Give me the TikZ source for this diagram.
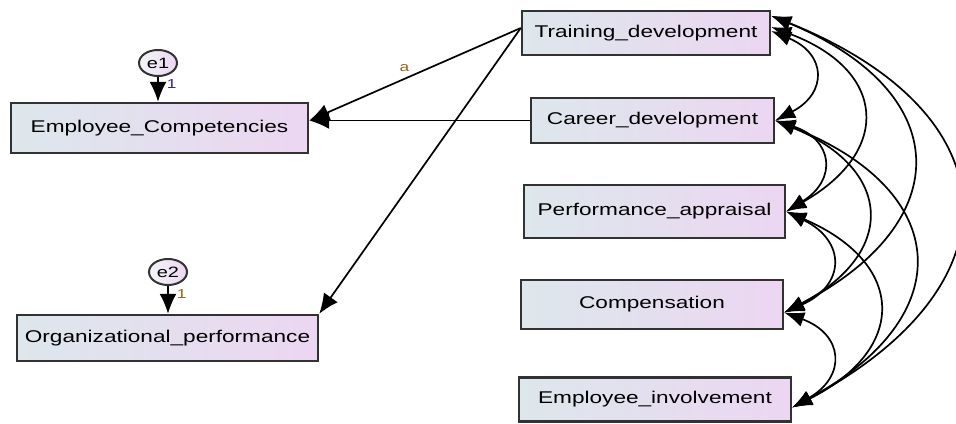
\documentclass[tikz,border=0pt]{standalone}
\usepackage{fontspec}
\setmainfont{Liberation Sans}[FakeStretch=1.33]
\usepackage{tikz}
\usetikzlibrary{arrows.meta,shapes.geometric}
\definecolor{boxleft}{RGB}{221,231,236}
\definecolor{boxright}{RGB}{236,214,242}
\definecolor{edgegray}{RGB}{50,50,50}
\definecolor{onecolor}{RGB}{60,30,150}
\definecolor{acolor}{RGB}{150,100,30}

\begin{document}
\begin{tikzpicture}[x=0.5pt,y=0.5pt,
	var/.style={draw=edgegray,line width=1.2pt,left color=boxleft,right color=boxright,inner sep=0pt,font=\fontsize{8.5}{10}\selectfont},
	err/.style={ellipse,draw=edgegray,line width=1pt,left color=boxleft!40!white,right color=boxright,minimum width=19pt,minimum height=13pt,inner sep=0pt,font=\fontsize{7.5}{8}\selectfont},
	reg/.style={line width=0.85pt,-{Latex[length=10pt,width=8.5pt]}},
	cov/.style={line width=0.85pt,{Latex[length=10pt,width=7.5pt]}-{Latex[length=10pt,width=7.5pt]},bend left=65,looseness=1.7},
	lbl/.style={font=\fontsize{6.5}{7}\selectfont,inner sep=1pt}]
	\useasboundingbox (0,0) rectangle (956,423);
	% observed variables
	\node[var,minimum width=148.5pt,minimum height=25pt] (ec) at (159.5,295) {Employee\_Competencies};
	\node[var,minimum width=150.5pt,minimum height=23pt] (op) at (167.5,85) {Organizational\_performance};
	\node[var,minimum width=124pt,minimum height=22pt] (td) at (646,390) {Training\_development};
	\node[var,minimum width=121.5pt,minimum height=22.5pt] (cd) at (652.5,302.5) {Career\_development};
	\node[var,minimum width=130.5pt,minimum height=26.5pt] (pa) at (654.5,211.5) {Performance\_appraisal};
	\node[var,minimum width=131pt,minimum height=24.5pt] (cp) at (652,118.5) {Compensation};
	\node[var,minimum width=136pt,minimum height=22pt] (ei) at (655,23.5) {Employee\_involvement};
	% error terms
	\node[err] (e1) at (158,360) {e1};
	\node[err] (e2) at (168,151) {e2};
	\draw[reg] (e1.south) -- (e1 |- ec.north) node[pos=0.3,right=3pt,lbl,text=onecolor] {1};
	\draw[reg] (e2.south) -- (e2 |- op.north) node[pos=0.3,right=3pt,lbl,text=acolor] {1};
	% regression paths
	\coordinate (tdout) at ([yshift=2.5pt]td.west);
	\coordinate (ecin) at (ec.east |- cd.west);
	\draw[reg] (tdout) -- (ecin) node[pos=0.55,above=2pt,lbl,text=acolor] {a};
	\draw[reg] (tdout) -- (op.north east);
	\draw[reg] (cd.west) -- (ecin);
	% covariances
	\coordinate (tdA) at ([yshift=-3pt]td.north east);
	\coordinate (tdB) at ([yshift=3pt]td.east);
	\coordinate (tdC) at ([yshift=1pt]td.east);
	\coordinate (cpP) at ([yshift=-4pt]cp.east);
	\coordinate (eiP) at ([yshift=-4pt]ei.east);
	\draw[cov] (tdC) to (cd.east);
	\draw[cov] (tdB) to (pa.east);
	\draw[cov] (tdA) to (cpP);
	\draw[cov] (tdA) to (eiP);
	\draw[cov] (cd.east) to (pa.east);
	\draw[cov] (cd.east) to (cpP);
	\draw[cov] (cd.east) to (eiP);
	\draw[cov] (pa.east) to (cpP);
	\draw[cov] (pa.east) to (eiP);
	\draw[cov] (cpP) to (eiP);
\end{tikzpicture}
\end{document}
